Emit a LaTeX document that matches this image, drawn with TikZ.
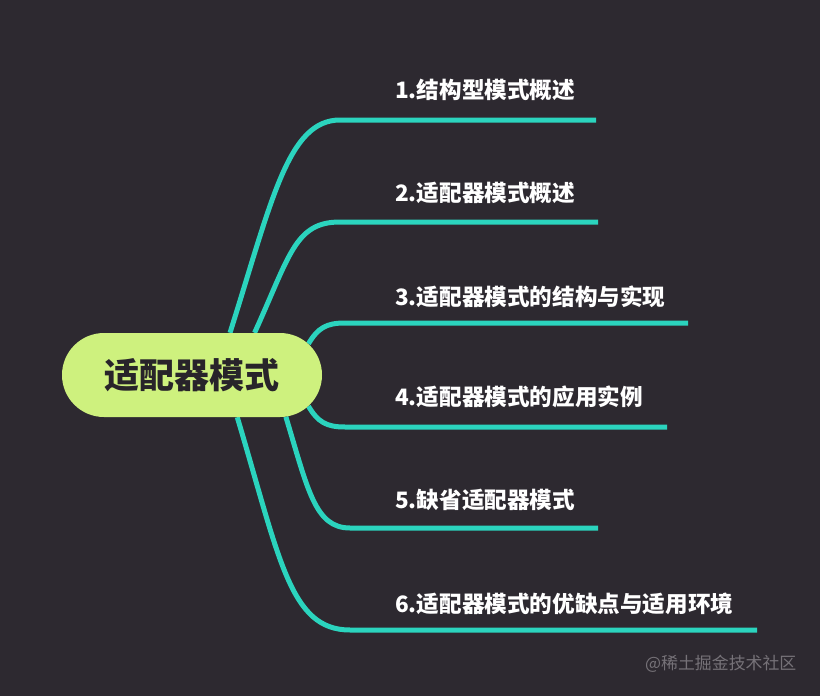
\documentclass[tikz,border=0pt]{standalone}
\usepackage{fontspec}
\setmainfont{Noto Sans CJK SC}[BoldFont={Noto Sans CJK SC Black}]
\usetikzlibrary{shapes.misc,backgrounds}
\definecolor{bgdark}{RGB}{45,41,48}
\definecolor{branchteal}{RGB}{43,212,190}
\definecolor{rootgreen}{RGB}{206,241,126}
\definecolor{rootink}{RGB}{40,36,42}
\definecolor{markgray}{RGB}{118,114,120}
\begin{document}
\begin{tikzpicture}[x=1pt,y=-1pt,
  branch/.style={draw=branchteal,line width=5pt},
  topic/.style={anchor=west,inner sep=0pt,text=white,font=\bfseries\fontsize{22.6}{26}\selectfont},
  rootbox/.style={rounded rectangle,fill=rootgreen,minimum width=260pt,minimum height=84pt,inner sep=0pt,text=rootink,font=\bfseries\fontsize{35}{40}\selectfont}]
\node[rootbox] (root) at (192,375) {适配器模式};
\node[topic] (t1) at (395,90) {1.结构型模式概述};
\node[topic] (t2) at (395,193) {2.适配器模式概述};
\node[topic] (t3) at (395,297) {3.适配器模式的结构与实现};
\node[topic] (t4) at (395,397) {4.适配器模式的应用实例};
\node[topic] (t5) at (395,500) {5.缺省适配器模式};
\node[topic] (t6) at (395,604) {6.适配器模式的优缺点与适用环境};
\node[anchor=west,inner sep=0pt,text=markgray,font=\fontsize{16.9}{19}\selectfont] (mark) at (645,664) {@稀土掘金技术社区};
% underline ends
\coordinate (e1) at (596,120);
\coordinate (e2) at (598,222);
\coordinate (e3) at (688,323);
\coordinate (e4) at (667,427);
\coordinate (e5) at (598,528);
\coordinate (e6) at (757,630);
\begin{pgfonlayer}{background}
\fill[bgdark] (0,0) rectangle (820,696);
\draw[branch] (root.48) .. controls (272,200) and (288,120) .. (340,120) -- (e1);
\draw[branch] (root.34) .. controls (290,255) and (295,222) .. (340,222) -- (e2);
\draw[branch] (root.15) .. controls (318,328) and (326,323) .. (345,323) -- (e3);
\draw[branch] (root.-15) .. controls (318,422) and (326,427) .. (345,427) -- (e4);
\draw[branch] (root.-24) .. controls (308,490) and (315,528) .. (350,528) -- (e5);
\draw[branch] (root.-43) .. controls (280,560) and (290,630) .. (350,630) -- (e6);
\end{pgfonlayer}
\end{tikzpicture}
\end{document}
